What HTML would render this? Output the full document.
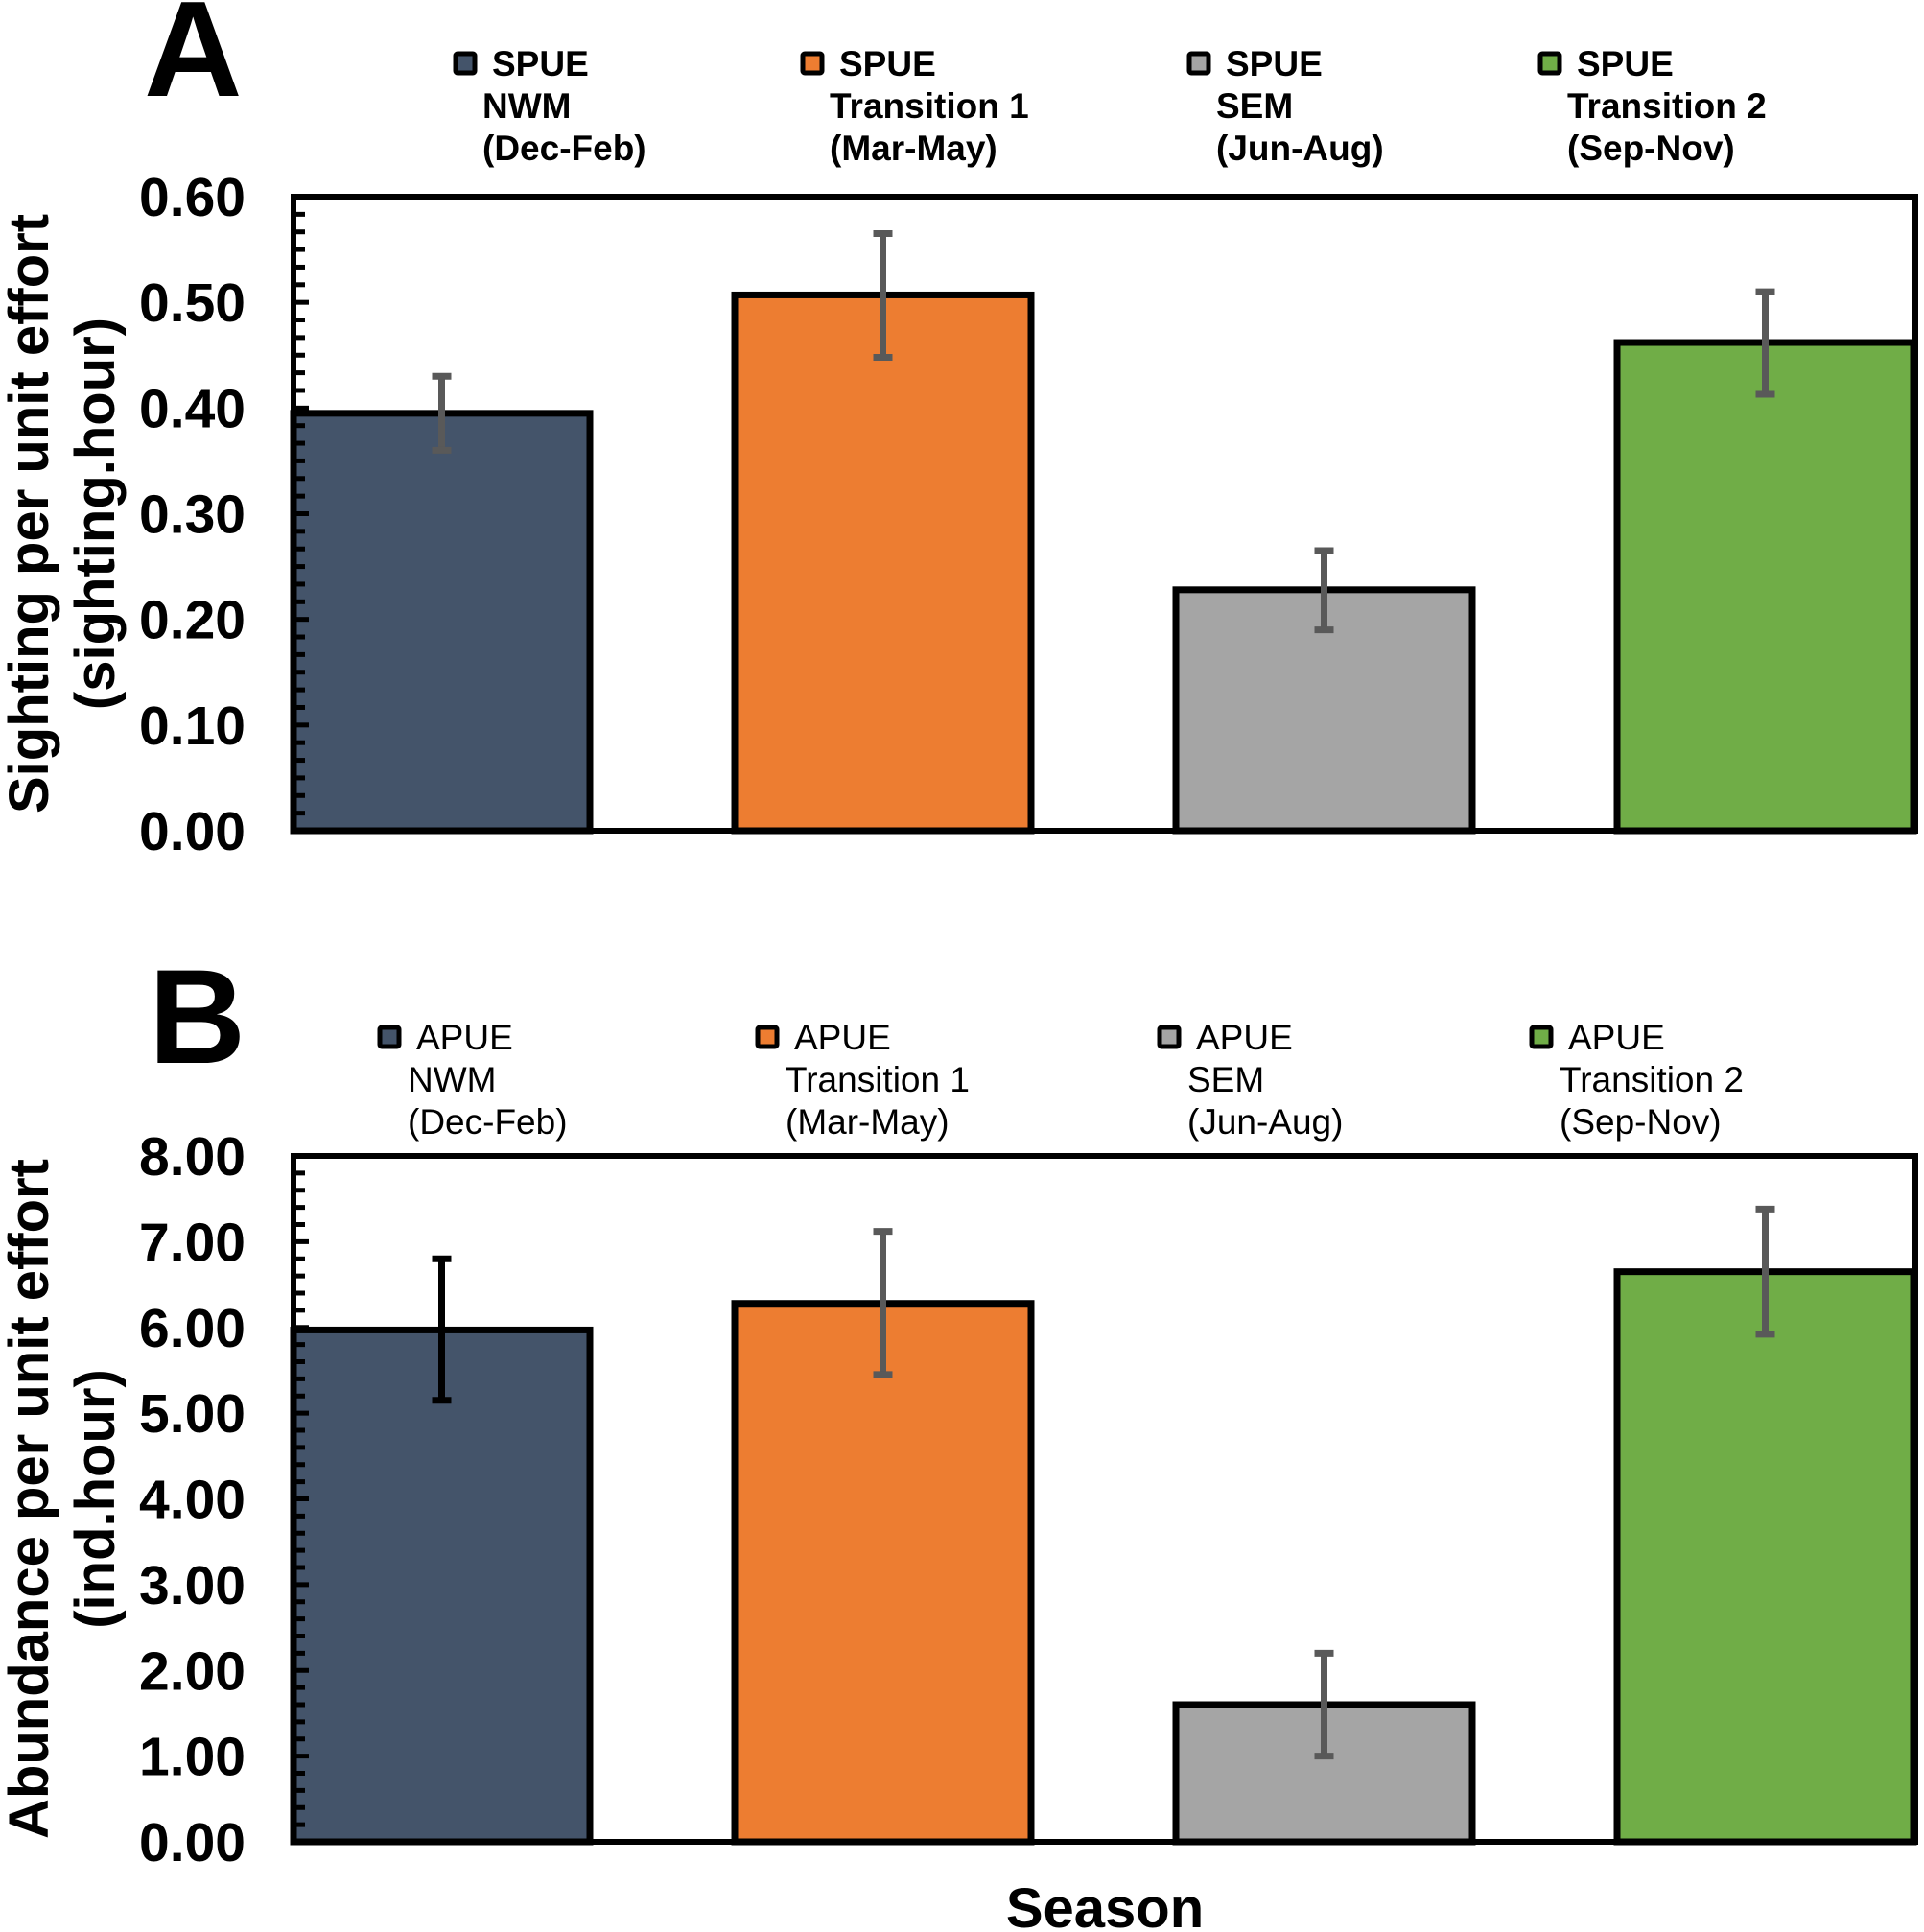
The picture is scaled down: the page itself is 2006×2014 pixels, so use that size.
<!DOCTYPE html>
<html><head><meta charset="utf-8"><style>
body{margin:0;background:#fff}
svg{display:block;font-family:"Liberation Sans",Arial,sans-serif}
</style></head><body>
<svg id="chart" width="2006" height="2014" viewBox="0 0 2006 2014" xmlns="http://www.w3.org/2000/svg">
<text x="150" y="100" font-size="142" font-weight="bold">A</text>
<text x="155" y="1108" font-size="140" font-weight="bold">B</text>
<text x="1152" y="2009" font-size="58" font-weight="bold" text-anchor="middle">Season</text>
<g id="pa"></g><g id="pb"></g>
</svg>
<script>
const categories = ["NWM (Dec-Feb)","Transition 1 (Mar-May)","SEM (Jun-Aug)","Transition 2 (Sep-Nov)"];
const legendLine2 = ["NWM","Transition 1","SEM","Transition 2"];
const legendLine3 = ["(Dec-Feb)","(Mar-May)","(Jun-Aug)","(Sep-Nov)"];
const colors = ["#44546a","#ed7d31","#a5a5a5","#70ad47"];
const spueValues = [0.395, 0.507, 0.228, 0.462];
const spueHigh = [0.430, 0.565, 0.265, 0.510];
const spueLow = [0.360, 0.448, 0.190, 0.413];
const spueTicks = ["0.00","0.10","0.20","0.30","0.40","0.50","0.60"];
const apueValues = [5.97, 6.28, 1.60, 6.65];
const apueHigh = [6.80, 7.12, 2.20, 7.38];
const apueLow = [5.15, 5.45, 1.00, 5.92];
const apueTicks = ["0.00","1.00","2.00","3.00","4.00","5.00","6.00","7.00","8.00"];

const NS="http://www.w3.org/2000/svg";
function mk(parent,tag,attrs,txt){const e=document.createElementNS(NS,tag);for(const k in attrs)e.setAttribute(k,attrs[k]);if(txt!==undefined)e.textContent=txt;parent.appendChild(e);return e;}

function panel(gid,o){
  const g=document.getElementById(gid);
  const L=306,R=1997,T=o.top,B=o.bottom;
  const yMax=o.max;
  const y=v=>B-(v/yMax)*(B-T);
  const bw=309, step=460;
  const xc=i=>L+bw/2+step*i;
  o.values.forEach((v,i)=>{
    const r=mk(g,'rect',{x:xc(i)-bw/2,y:y(v),width:bw,height:B-y(v),fill:colors[i],stroke:'#000','stroke-width':7});
    
    
  });
  o.values.forEach((v,i)=>{
    const c=(o.blackFirst&&i===0)?'#000':'#595959';
    const eg=mk(g,'g',{stroke:c,'stroke-width':7});
    
    
    const x=xc(i);
    mk(eg,'line',{x1:x,x2:x,y1:y(o.hi[i]),y2:y(o.lo[i])});
    mk(eg,'line',{x1:x-10,x2:x+10,y1:y(o.hi[i]),y2:y(o.hi[i])});
    mk(eg,'line',{x1:x-10,x2:x+10,y1:y(o.lo[i]),y2:y(o.lo[i])});
  });
  const f=mk(g,'rect',{x:L,y:T,width:R-L,height:B-T,fill:'none',stroke:'#000','stroke-width':6});
  
  
  const nMaj=o.ticks.length-1;
  for(let k=0;k<=nMaj*o.minor;k++){
    const v=k*yMax/(nMaj*o.minor);
    const major=k%o.minor===0;
    mk(g,'line',{x1:L,x2:L+(major?16:12),y1:y(v),y2:y(v),stroke:'#000','stroke-width':5});
  }
  o.ticks.forEach((t,k)=>{
    const tl=mk(g,'text',{x:256,y:y(k*yMax/nMaj)+20,'font-size':57,'font-weight':'bold','text-anchor':'end'},t);
    
    
  });
  const cy=(T+B)/2;
  const yt=mk(g,'text',{transform:`translate(0 ${cy}) rotate(-90)`,'font-size':58,'font-weight':'bold','text-anchor':'middle'});
  
  
  mk(yt,'tspan',{x:0,y:50},o.title1);
  mk(yt,'tspan',{x:0,y:119},o.title2);
  o.legX.forEach((lx,i)=>{
    const lg=mk(g,'g',{});
    
    
    mk(lg,'rect',{x:lx-10,y:o.legY-10,width:20,height:20,fill:colors[i],stroke:'#000','stroke-width':5,rx:2});
    const fw=o.boldLegend?'bold':'normal';
    mk(lg,'text',{x:lx+o.dx1,y:o.legY+13,'font-size':37,'font-weight':fw},o.label);
    mk(lg,'text',{x:lx+o.dx2,y:o.legY+57,'font-size':37,'font-weight':fw},legendLine2[i]);
    mk(lg,'text',{x:lx+o.dx2,y:o.legY+101,'font-size':37,'font-weight':fw},legendLine3[i]);
  });
}
panel('pa',{prefix:'spue',top:205,bottom:866,max:0.6,values:spueValues,hi:spueHigh,lo:spueLow,ticks:spueTicks,minor:6,
  title1:'Sighting per unit effort',title2:'(sighting.hour)',legX:[485,847,1250,1616],legY:66,dx1:28,dx2:18,boldLegend:true,label:'SPUE',blackFirst:false});
panel('pb',{prefix:'apue',top:1205,bottom:1920,max:8,values:apueValues,hi:apueHigh,lo:apueLow,ticks:apueTicks,minor:5,
  title1:'Abundance per unit effort',title2:'(ind.hour)',legX:[406,800,1219,1607],legY:1081,dx1:28,dx2:19,boldLegend:false,label:'APUE',blackFirst:true});
</script>
</body></html>
